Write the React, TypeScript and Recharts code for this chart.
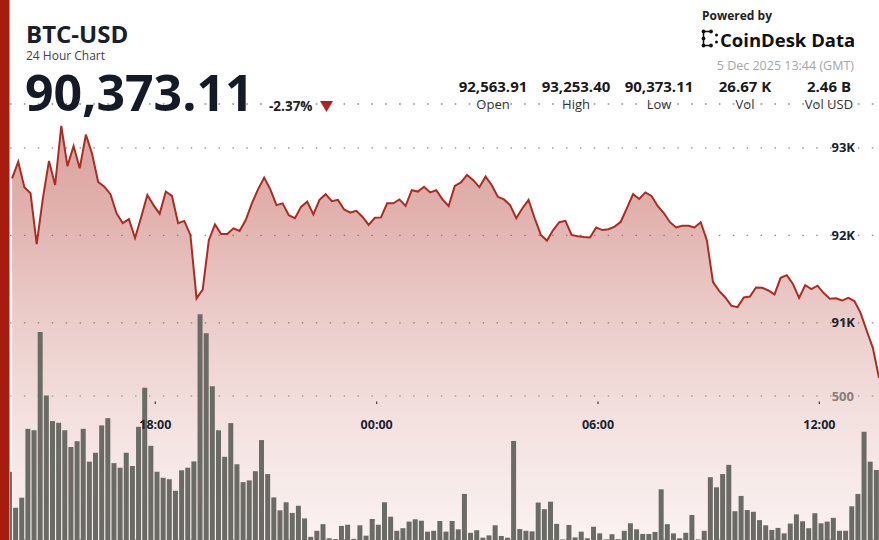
import React from 'react';
import { ComposedChart, Area, Bar, XAxis, YAxis, CartesianGrid } from 'recharts';

const FONT = '"Open Sans", "Noto Sans", sans-serif';

// 10 minute samples, first one at 14:07 the previous day (minutes from that midnight)
const START_MIN = 14 * 60 + 7;
const STEP_MIN = 10;

const prices = [
  92650, 92840, 92550, 92480, 91900, 92420, 92850, 92575, 93250, 92790,
  93020, 92765, 93150, 92935, 92610, 92555, 92470, 92250, 92140, 92185,
  91970, 92210, 92460, 92345, 92245, 92500, 92450, 92140, 92165, 92005,
  91280, 91380, 91945, 92125, 92015, 92015, 92080, 92050, 92175, 92365,
  92525, 92660, 92525, 92345, 92365, 92230, 92195, 92325, 92385, 92240,
  92405, 92470, 92390, 92405, 92295, 92260, 92280, 92210, 92120, 92200,
  92205, 92365, 92365, 92410, 92335, 92515, 92500, 92555, 92490, 92515,
  92410, 92335, 92565, 92605, 92690, 92630, 92550, 92670, 92575, 92440,
  92410, 92345, 92195, 92310, 92405, 92195, 92005, 91940, 92060, 92150,
  92165, 92005, 91990, 91980, 91975, 92090, 92060, 92070, 92100, 92155,
  92310, 92470, 92415, 92490, 92450, 92335, 92255, 92150, 92090, 92110,
  92110, 92090, 92150, 91945, 91465, 91365, 91290, 91195, 91180, 91290,
  91300, 91405, 91400, 91370, 91325, 91515, 91545, 91445, 91285, 91430,
  91385, 91425, 91340, 91275, 91280, 91255, 91285, 91250, 91115, 90910,
  90715, 90373,
];

const volumes = [
  237, 112, 147, 386, 381, 722, 502, 413, 407, 381,
  323, 343, 386, 272, 303, 398, 423, 267, 251, 303,
  257, 393, 529, 327, 237, 216, 211, 171, 242, 251,
  273, 784, 718, 534, 381, 289, 406, 263, 201, 207,
  239, 347, 229, 148, 103, 131, 94, 119, 75, 11,
  32, 55, 6, 3, 49, 53, 4, 51, 15, 73,
  53, 131, 81, 32, 41, 64, 72, 67, 29, 32,
  66, 29, 66, 37, 160, 25, 34, 8, 16, 51,
  14, 8, 344, 38, 32, 30, 130, 107, 133, 56,
  2, 52, 9, 29, 6, 46, 23, 2, 20, 3,
  32, 58, 37, 21, 21, 28, 176, 55, 23, 6,
  25, 87, 2, 32, 218, 183, 229, 261, 100, 153,
  104, 98, 69, 51, 35, 42, 23, 57, 89, 65,
  41, 93, 58, 64, 77, 32, 32, 117, 160, 376,
  272, 243,
];

const timeTicks = [18 * 60, 24 * 60, 30 * 60, 36 * 60];
const timeTickLabels = ['18:00', '00:00', '06:00', '12:00'];
const priceTicks = [91000, 92000, 93000];
const volumeTicks = [500];

const statValues = ['92,563.91', '93,253.40', '90,373.11', '26.67 K', '2.46 B'];
const statLabels = ['Open', 'High', 'Low', 'Vol', 'Vol USD'];
const statX = [493, 576, 659, 745, 829];

const rows = prices.map((p, i) => ({
  t: START_MIN + i * STEP_MIN,
  tb: START_MIN + i * STEP_MIN - STEP_MIN / 2,
  price: p,
  vol: volumes[i],
}));

const X_DOMAIN = [843.6, 2257];

function TimeTick(props: any) {
  const { x, payload } = props;
  const label = timeTickLabels[timeTicks.indexOf(payload.value)];
  return (
    <g>
      <rect x={x - 0.6} y={401.5} width={1.2} height={2.5} fill="#3a3a3a" />
      <text x={x} y={429} textAnchor="middle" fontFamily={FONT} fontSize={12.5} fontWeight={700} fill="#1b2330">
        {label}
      </text>
    </g>
  );
}

function Header() {
  return (
    <svg width={879} height={540} style={{ position: 'absolute', left: 0, top: 0, pointerEvents: 'none' }} fontFamily={FONT}>
      <rect x={0} y={0} width={9.5} height={540} fill="#a81c10" />
      <text x={26} y={42.5} fontSize={24} fontWeight={700} fill="#18202c">BTC-USD</text>
      <text x={26} y={60} fontSize={12} fill="#444">24 Hour Chart</text>
      <text x={25} y={111} fontSize={50} fontWeight={700} fill="#141b26">90,373.11</text>
      <text x={269} y={110.5} fontSize={13.5} fontWeight={700} fill="#222">-2.37%</text>
      <polygon points="320,101 333,101 326.5,112" fill="#b3221a" />

      <text x={702} y={19.5} fontSize={12} fontWeight={700} fill="#222">Powered by</text>
      <g fill="#111" stroke="#111">
        <line x1={703.5} y1={31.5} x2={711} y2={31.5} strokeWidth={1.5} />
        <line x1={703.5} y1={45.5} x2={711} y2={45.5} strokeWidth={1.5} />
        <line x1={703.5} y1={31.5} x2={703.5} y2={45.5} strokeWidth={1.5} />
        <circle cx={703.5} cy={31.5} r={1.9} stroke="none" />
        <circle cx={703.5} cy={38.5} r={1.9} stroke="none" />
        <circle cx={703.5} cy={45.5} r={1.9} stroke="none" />
        <circle cx={711} cy={31.5} r={1.9} stroke="none" />
        <circle cx={711} cy={45.5} r={1.9} stroke="none" />
        <circle cx={716.5} cy={35} r={1.5} stroke="none" />
        <circle cx={716.5} cy={42} r={1.5} stroke="none" />
      </g>
      <text x={720} y={46.5} fontSize={18.5} fontWeight={700} fill="#111">CoinDesk Data</text>
      <text x={854} y={69.5} fontSize={12.5} textAnchor="end" fill="#a6a6a6">5 Dec 2025 13:44 (GMT)</text>

      {statValues.map((v, i) => (
        <text key={v} x={statX[i]} y={91.5} fontSize={15} fontWeight={700} textAnchor="middle" fill="#1a1a1a">{v}</text>
      ))}
      {statLabels.map((l, i) => (
        <text key={l} x={statX[i]} y={108.5} fontSize={13} textAnchor="middle" fill="#333">{l}</text>
      ))}
    </svg>
  );
}

export default function App() {
  return (
    <div style={{ position: 'absolute', left: 0, top: 0, width: 879, height: 540, background: '#fff', overflow: 'hidden', fontFamily: FONT }}>
      <ComposedChart width={879} height={540} data={rows} margin={{ top: 104, right: 0, bottom: -1, left: 10 }}>
        <defs>
          <linearGradient id="btcFill" x1="0" y1="0" x2="0" y2="1">
            <stop offset="0%" stopColor="#b84a40" stopOpacity={0.86} />
            <stop offset="20%" stopColor="#b84a40" stopOpacity={0.72} />
            <stop offset="45%" stopColor="#b84a40" stopOpacity={0.48} />
            <stop offset="70%" stopColor="#b84a40" stopOpacity={0.28} />
            <stop offset="100%" stopColor="#b84a40" stopOpacity={0.12} />
          </linearGradient>
        </defs>
        <CartesianGrid yAxisId="price" xAxisId="time" vertical={false} stroke="#8a8a8a" strokeWidth={1.2} strokeDasharray="1.5 12.4" />
        <CartesianGrid yAxisId="vol" xAxisId="time" vertical={false} stroke="#8a8a8a" strokeWidth={1.2} strokeDasharray="1.5 12.4" />
        <XAxis
          xAxisId="time"
          dataKey="t"
          type="number"
          domain={X_DOMAIN}
          allowDataOverflow
          ticks={timeTicks}
          interval={0}
          tick={<TimeTick />}
          axisLine={false}
          tickLine={false}
          height={1}
        />
        <XAxis xAxisId="bar" dataKey="tb" type="number" domain={X_DOMAIN} allowDataOverflow hide />
        <YAxis
          yAxisId="price"
          orientation="right"
          mirror
          width={1}
          domain={[88520, 93500]}
          ticks={priceTicks}
          tickFormatter={(v) => `${v / 1000}K`}
          axisLine={false}
          tickLine={false}
          tickSize={6}
          tickMargin={18}
          tick={{ fill: '#1b2330', fontSize: 13, fontWeight: 700, fontFamily: FONT }}
        />
        <YAxis
          yAxisId="vol"
          orientation="right"
          mirror
          width={1}
          domain={[0, 1514]}
          ticks={volumeTicks}
          axisLine={false}
          tickLine={false}
          tickSize={6}
          tickMargin={18}
          tick={{ fill: '#8e7c77', fontSize: 13, fontWeight: 700, fontFamily: FONT }}
        />
        <Area
          xAxisId="time"
          yAxisId="price"
          dataKey="price"
          type="linear"
          stroke="#ad2c22"
          strokeWidth={2}
          fill="url(#btcFill)"
          dot={false}
          activeDot={false}
          isAnimationActive={false}
        />
        <Bar xAxisId="bar" yAxisId="vol" dataKey="vol" barSize={5} fill="#6b6b65" isAnimationActive={false} />
      </ComposedChart>
      <Header />
    </div>
  );
}
